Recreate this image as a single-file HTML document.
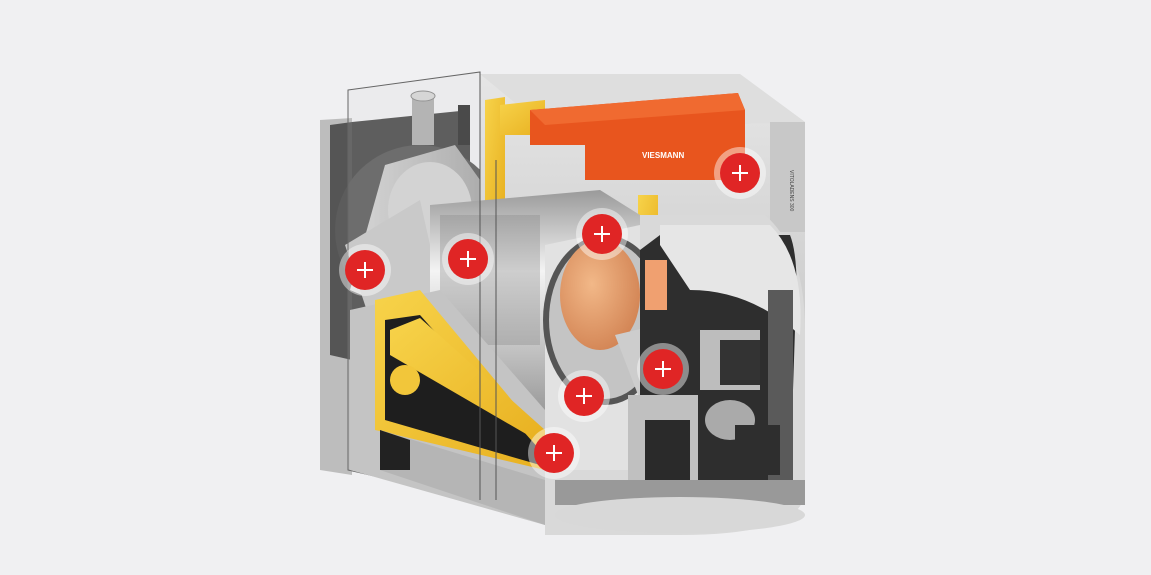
<!DOCTYPE html>
<html><head><meta charset="utf-8"><style>
html,body{margin:0;padding:0;background:#f0f0f2;}
svg{display:block}
</style></head><body>
<svg width="1151" height="575" viewBox="0 0 1151 575" xmlns="http://www.w3.org/2000/svg">
<defs>
<linearGradient id="gv" x1="0" y1="0" x2="0" y2="1"><stop offset="0" stop-color="#e6e6e6"/><stop offset="1" stop-color="#bcbcbc"/></linearGradient>
<linearGradient id="gh" x1="0" y1="0" x2="1" y2="0"><stop offset="0" stop-color="#d8d8d8"/><stop offset="1" stop-color="#a8a8a8"/></linearGradient>
<linearGradient id="cyl" x1="0" y1="0" x2="0" y2="1"><stop offset="0" stop-color="#9a9a9a"/><stop offset="0.3" stop-color="#f4f4f4"/><stop offset="0.65" stop-color="#b8b8b8"/><stop offset="1" stop-color="#7a7a7a"/></linearGradient>
<radialGradient id="org" cx="0.4" cy="0.4" r="0.7"><stop offset="0" stop-color="#f2b888"/><stop offset="1" stop-color="#d08050"/></radialGradient>
<linearGradient id="ylw" x1="0" y1="0" x2="1" y2="1"><stop offset="0" stop-color="#f7d34a"/><stop offset="1" stop-color="#e8b020"/></linearGradient>
</defs>
<rect width="1151" height="575" fill="#f0f0f2"/>
<!-- left side panel -->
<polygon points="320,120 352,118 352,475 320,470" fill="#bdbdbd"/>
<polygon points="330,125 352,122 352,360 330,355" fill="#555"/>
<!-- dark back -->
<path d="M352,122 L470,110 L470,320 L352,345 Z" fill="#4a4a4a"/>
<circle cx="420" cy="230" r="85" fill="#5c5c5c"/>
<!-- burner housing left -->
<path d="M385,165 L455,145 L480,180 L480,300 L420,320 L350,290 Z" fill="url(#gh)"/>
<ellipse cx="430" cy="210" rx="42" ry="48" fill="#d4d4d4"/>
<path d="M345,245 L420,200 L440,290 L370,320 Z" fill="#c8c8c8"/>
<rect x="412" y="95" width="22" height="50" fill="#b0b0b0"/>
<ellipse cx="423" cy="96" rx="12" ry="5" fill="#d8d8d8" stroke="#888"/>
<rect x="458" y="105" width="12" height="40" fill="#333"/>
<!-- glass outline box -->
<polygon points="348,90 480,72 480,500 348,470" fill="#d0d0d0" fill-opacity="0.15" stroke="#666" stroke-width="1"/>
<!-- top right block -->
<polygon points="480,74 740,74 805,122 805,480 480,480" fill="url(#gv)"/>
<polygon points="480,74 740,74 805,122 548,130" fill="#dedede"/>
<rect x="770" y="122" width="35" height="110" fill="#c8c8c8"/>
<text x="790" y="170" font-family="Liberation Sans,sans-serif" font-size="5" fill="#444" transform="rotate(90 790 170)">VITOLADENS 300</text>
<!-- yellow top strip -->
<polygon points="485,100 505,97 505,215 485,215" fill="url(#ylw)"/>
<polygon points="500,105 545,100 545,135 500,135" fill="url(#ylw)"/>
<rect x="638" y="195" width="20" height="70" fill="url(#ylw)"/>
<!-- orange controller -->
<polygon points="530,110 738,93 745,110 745,180 585,180 585,145 530,145" fill="#e8551e"/>
<polygon points="530,110 738,93 745,110 545,125" fill="#f06a30"/>
<text x="642" y="158" font-family="Liberation Sans,sans-serif" font-size="8" font-weight="bold" fill="#fff">VIESMANN</text>
<!-- main cylinder -->
<path d="M430,205 L600,190 L640,215 L640,450 L600,460 L430,360 Z" fill="url(#cyl)"/>
<rect x="440" y="215" width="100" height="130" fill="#888" opacity="0.35"/>
<path d="M545,245 L640,225 L640,470 L545,470 Z" fill="#e2e2e2"/>
<ellipse cx="605" cy="320" rx="62" ry="85" fill="#555"/>
<ellipse cx="605" cy="320" rx="56" ry="79" fill="#c4c4c4"/>
<ellipse cx="600" cy="295" rx="40" ry="55" fill="url(#org)"/>
<path d="M615,335 L700,315 L720,380 L640,400 Z" fill="#cdcdcd"/>
<!-- right D shape -->
<path d="M640,215 L765,215 Q805,250 805,330 L805,490 Q805,535 680,535 L545,535 L545,470 L640,470 Z" fill="#d9d9d9"/>
<path d="M660,235 L790,235 Q800,260 795,330 L790,480 L640,480 L640,250 Z" fill="#2e2e2e"/>
<path d="M660,225 L770,225 Q805,260 800,335 Q750,290 690,290 L660,245 Z" fill="#e6e6e6"/>
<rect x="645" y="260" width="22" height="50" fill="#f0a070"/>
<rect x="768" y="290" width="25" height="190" fill="#5a5a5a"/>
<!-- burner components -->
<rect x="628" y="395" width="70" height="105" fill="#c0c0c0"/>
<rect x="645" y="420" width="45" height="60" fill="#2a2a2a"/>
<rect x="700" y="330" width="60" height="60" fill="#bdbdbd"/>
<rect x="720" y="340" width="40" height="45" fill="#333"/>
<ellipse cx="730" cy="420" rx="25" ry="20" fill="#aaa"/>
<rect x="735" y="425" width="45" height="50" fill="#2e2e2e"/>
<rect x="555" y="480" width="250" height="25" fill="#999"/>
<ellipse cx="680" cy="515" rx="125" ry="18" fill="#d8d8d8"/>
<!-- lower left base -->
<polygon points="350,310 440,290 545,410 545,525 350,470" fill="#c4c4c4"/>
<polygon points="375,300 420,290 545,440 545,470 375,430" fill="url(#ylw)"/>
<polygon points="385,320 420,315 540,450 540,465 385,420" fill="#1e1e1e"/>
<polygon points="390,330 420,318 545,430 545,445 390,355" fill="url(#ylw)"/>
<circle cx="405" cy="380" r="15" fill="#f2c63a"/>
<polygon points="380,430 545,480 545,525 380,470" fill="#b5b5b5"/>
<polygon points="380,430 410,440 410,470 380,470" fill="#222"/>
<line x1="480" y1="72" x2="480" y2="500" stroke="#555" stroke-width="1"/>
<line x1="496" y1="160" x2="496" y2="500" stroke="#555" stroke-width="1"/>
<!-- markers -->
<g>
<g transform="translate(365,270)"><circle r="26" fill="#fff" fill-opacity="0.45"/><circle r="20" fill="#e02525"/><path d="M-8,0H8M0,-8V8" stroke="#fff" stroke-width="2"/></g>
<g transform="translate(468,259)"><circle r="26" fill="#fff" fill-opacity="0.45"/><circle r="20" fill="#e02525"/><path d="M-8,0H8M0,-8V8" stroke="#fff" stroke-width="2"/></g>
<g transform="translate(602,234)"><circle r="26" fill="#fff" fill-opacity="0.45"/><circle r="20" fill="#e02525"/><path d="M-8,0H8M0,-8V8" stroke="#fff" stroke-width="2"/></g>
<g transform="translate(740,173)"><circle r="26" fill="#fff" fill-opacity="0.45"/><circle r="20" fill="#e02525"/><path d="M-8,0H8M0,-8V8" stroke="#fff" stroke-width="2"/></g>
<g transform="translate(663,369)"><circle r="26" fill="#fff" fill-opacity="0.45"/><circle r="20" fill="#e02525"/><path d="M-8,0H8M0,-8V8" stroke="#fff" stroke-width="2"/></g>
<g transform="translate(584,396)"><circle r="26" fill="#fff" fill-opacity="0.45"/><circle r="20" fill="#e02525"/><path d="M-8,0H8M0,-8V8" stroke="#fff" stroke-width="2"/></g>
<g transform="translate(554,453)"><circle r="26" fill="#fff" fill-opacity="0.45"/><circle r="20" fill="#e02525"/><path d="M-8,0H8M0,-8V8" stroke="#fff" stroke-width="2"/></g>
</g>
</svg>
</body></html>
